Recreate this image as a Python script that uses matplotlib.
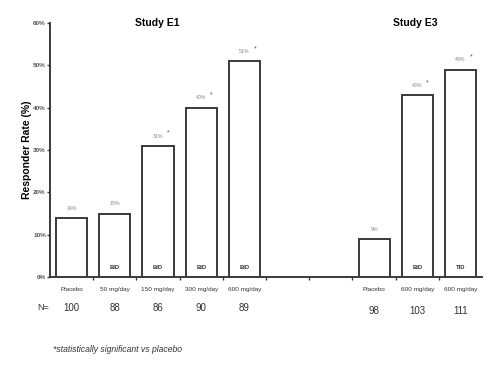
import numpy as np
import matplotlib.pyplot as plt

plt.rcParams['font.family'] = ['Liberation Sans', 'DejaVu Sans']

# data
e1_labels = ['Placebo', '50 mg/day', '150 mg/day', '300 mg/day', '600 mg/day']
e1_values = [14, 15, 31, 40, 51]
e1_n = [100, 88, 86, 90, 89]
e1_sig = [False, False, True, True, True]
e1_dosing = ['', 'BID', 'BID', 'BID', 'BID']

e3_labels = ['Placebo', '600 mg/day', '600 mg/day']
e3_values = [9, 43, 49]
e3_n = [98, 103, 111]
e3_sig = [False, True, True]
e3_dosing = ['', 'BID', 'TID']

yticks = [0, 10, 20, 30, 40, 50, 60]

# slot positions: E1 in slots 0-4, E3 in slots 7-9
e1_pos = np.arange(len(e1_values))
e3_pos = np.arange(len(e3_values)) + 7

edge = '#3a3a3a'
fig = plt.figure(figsize=(4.97, 3.67), dpi=100)
ax = fig.add_axes([0.1006, 0.2452, 0.8694, 0.6921])

for pos, vals, labels, n, sig, dosing, n_y in [
        (e1_pos, e1_values, e1_labels, e1_n, e1_sig, e1_dosing, -6.1),
        (e3_pos, e3_values, e3_labels, e3_n, e3_sig, e3_dosing, -6.9)]:
    ax.bar(pos, vals, width=0.72, color='white', edgecolor=edge, linewidth=1.4, zorder=2)
    for x, v, lab, nn, s, d in zip(pos, vals, labels, n, sig, dosing):
        ax.text(x, v + 1.7, f'{v}%', ha='center', va='bottom', fontsize=3.8, color='#8a8a8a')
        if s:
            ax.text(x + 0.24, v + 2.1, '*', ha='center', va='bottom', fontsize=5, color='#555555')
        if d:
            ax.text(x, 1.6, d, ha='center', va='bottom', fontsize=4.2, fontweight='bold', color='#333333')
        ax.text(x, -2.4, lab, ha='center', va='top', fontsize=4.6, color='#333333')
        ax.text(x, n_y, str(nn), ha='center', va='top', fontsize=7, color='#333333')

ax.text(-0.52, -6.1, 'N=', ha='right', va='top', fontsize=6.5, color='#333333')

ax.set_xlim(-0.5, 9.5)
ax.set_ylim(0, 60)
ax.set_xticks(np.arange(0.5, 9.5, 1))
ax.set_xticklabels([])
ax.tick_params(axis='x', length=2, width=1, color=edge, direction='out')
ax.set_yticks(yticks)
ax.set_yticklabels([f'{t}%' for t in yticks], fontsize=4.6, color='#555555', fontweight='bold')
ax.tick_params(axis='y', length=2, width=1, color=edge, pad=1)

for s in ['top', 'right']:
    ax.spines[s].set_visible(False)
for s in ['left', 'bottom']:
    ax.spines[s].set_color(edge)
    ax.spines[s].set_linewidth(1.4)

ax.set_ylabel('Responder Rate (%)', fontsize=7.5, fontweight='bold', labelpad=1)

fig.text(157 / 497, 1 - 23 / 367, 'Study E1', ha='center', va='center', fontsize=7.5, fontweight='bold')
fig.text(415 / 497, 1 - 23 / 367, 'Study E3', ha='center', va='center', fontsize=7.5, fontweight='bold')
fig.text(53 / 497, 1 - 350 / 367, '*statistically significant vs placebo', ha='left', va='center',
         fontsize=6.2, style='italic', color='#333333')

fig.savefig('out.png', dpi=100)
